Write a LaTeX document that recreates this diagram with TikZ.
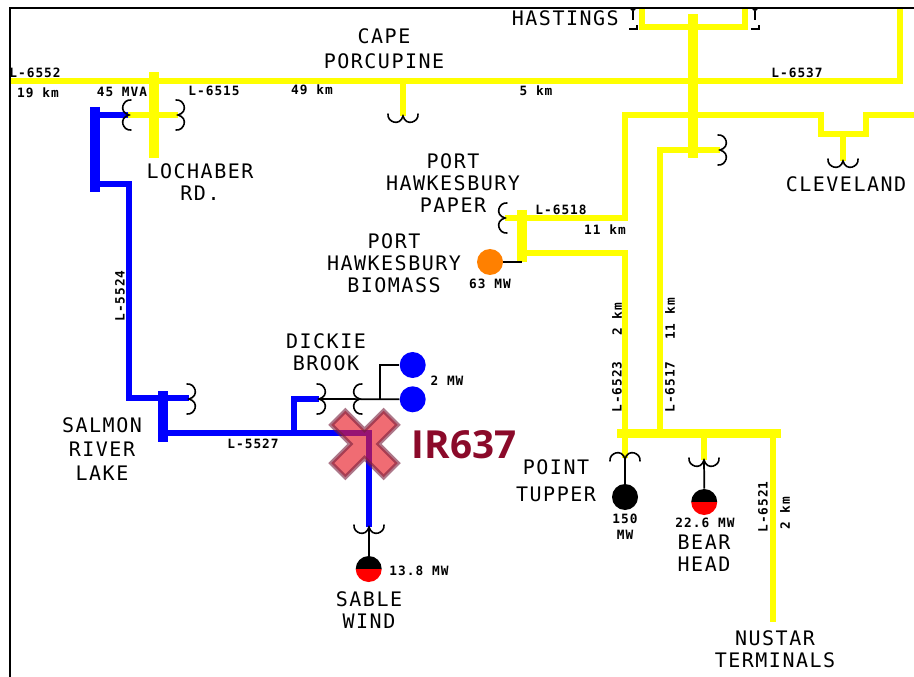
\documentclass[tikz,border=0pt]{standalone}
\usepackage{fontspec}
\setmainfont{Liberation Sans}
\newfontfamily\biglab[LetterSpace=7.5]{DejaVu Sans Mono}
\newfontfamily\smalllab[LetterSpace=8]{DejaVu Sans Mono Bold}
\newfontfamily\irfont{Open Sans Bold}
\definecolor{yel}{RGB}{255,255,0}
\definecolor{blu}{RGB}{0,0,255}
\definecolor{irred}{RGB}{139,10,42}
\tikzset{
  x=0.75pt,y=-0.75pt,
  ylw/.style={draw=yel,line width=5pt,line join=miter},
  ylwb/.style={draw=yel,line width=7pt},
  bl/.style={draw=blu,line width=5pt,line join=miter},
  blb/.style={draw=blu,line width=7pt},
  wire/.style={draw=black,line width=1.3pt},
  big/.style={inner sep=0pt,align=center,font=\biglab\fontsize{15}{16.5}\selectfont},
  small/.style={inner sep=0pt,font=\smalllab\fontsize{9.6}{11}\selectfont},
  gen/.style={circle,minimum size=19.5pt,inner sep=0pt},
  coil/.pic={\draw[black,line width=1.2pt,line cap=round]
     (-2,-15) .. controls (6,-16) and (11,-3) .. (0,0)
     .. controls (11,3) and (6,16) .. (-2,15);}
}
\begin{document}
\begin{tikzpicture}
\useasboundingbox (0,0) rectangle (914,677);
\fill[white] (0,0) rectangle (914,677);
% coordinates of the junctions
\coordinate (wL) at (10,81);
\coordinate (eT) at (900,8);
\coordinate (hL) at (642,8);
\coordinate (hR) at (745,8);
% yellow lines
\draw[ylw] (wL) -- (900,81) -- (eT);
\draw[ylw] (hL) -- (642,27) -- (745,27) -- (hR);
\draw[ylwb] (693,14) -- (693,158);
\draw[ylwb] (154,72) -- (154,158);
\draw[ylw] (128,115) -- (178,115);
\draw[ylw] (403,81) -- (403,116);
\draw[ylw] (505,218) -- (625,218) -- (625,115) -- (821,115) -- (821,134) -- (866,134) -- (866,115) -- (914,115);
\draw[ylw] (843,134) -- (843,161);
\draw[ylw] (720,150) -- (660,150) -- (660,433);
\draw[ylwb] (522,210) -- (522,262);
\draw[ylw] (522,253) -- (625,253) -- (625,458);
\draw[ylwb] (617,433.5) -- (781,433.5);
\draw[ylw] (704,433) -- (704,460);
\draw[ylw] (773,433) -- (773,622);
% blue lines
\draw[blb] (95,107) -- (95,192);
\draw[bl] (95,115) -- (128,115);
\draw[bl] (95,184) -- (129,184) -- (129,398) -- (189,398);
\draw[blb] (163,391) -- (163,442);
\draw[bl] (163,433) -- (369,433) -- (369,527);
\draw[bl] (294,433) -- (294,399) -- (319,399);
% generators
\node[gen,fill=blu] (g1) at (412.7,365) {};
\node[gen,fill=blu] (g2) at (412.7,399.3) {};
\node[gen,fill=orange] (g3) at (490,262) {};
\node[gen,fill=black] (g4) at (625,497) {};
\node[gen] (g5) at (704.5,502) {};
\node[gen] (g6) at (369,569) {};
\fill[black] (g5.west) arc[start angle=180,end angle=360,radius=13] -- cycle;
\fill[red] (g5.west) arc[start angle=180,end angle=0,radius=13] -- cycle;
\fill[black] (g6.west) arc[start angle=180,end angle=360,radius=13] -- cycle;
\fill[red] (g6.west) arc[start angle=180,end angle=0,radius=13] -- cycle;
% black wires
\coordinate (c1) at (319,399);
\coordinate (bj) at (380,399);
\draw[wire] (c1) -- (g2);
\draw[wire] (bj) |- (g1);
\draw[wire] (g3) -- (522,262);
\coordinate (c2) at (625,459);
\coordinate (c3) at (704,460);
\coordinate (c4) at (369,527);
\draw[wire] (c2) -- (g4);
\draw[wire] (c3) -- (g5);
\draw[wire] (c4) -- (g6);
% coils
\pic at (129,115) [xscale=-1] {coil};
\pic at (178,115) {coil};
\pic at (403,116) [rotate=-90] {coil};
\pic at (720,150) {coil};
\pic at (843,161) [rotate=-90] {coil};
\pic at (505,218) [xscale=-1] {coil};
\pic at (189,399) {coil};
\pic at (319,399) {coil};
\pic at (360,399) [xscale=-1] {coil};
\pic at (625,459) [rotate=90] {coil};
\pic at (704,460) [rotate=-90] {coil};
\pic at (369,527) [rotate=-90] {coil};
% Hastings marks
\foreach \xx in {633,755}{
  \fill[black] (\xx-3,8) arc[start angle=180,end angle=0,radius=3] -- cycle;
  \draw[black,line width=1.3pt] (\xx,11) -- (\xx,20);
  \draw[black,line width=1.3pt] (\xx-4,29) -- (\xx+4,29) -- (\xx+4,25);
}
% frame
\draw[black,line width=1.1pt] (10,677) -- (10,8) -- (914,8);
% red cross
\begin{scope}[shift={(364.5,444)},rotate=45]
\draw[draw={rgb,255:red,120;green,30;blue,60},draw opacity=.6,line width=3.2pt,fill={rgb,255:red,232;green,30;blue,40},fill opacity=.65,line join=miter]
 (-10,-37) -- (10,-37) -- (10,-10) -- (37,-10) -- (37,10) -- (10,10) -- (10,37) -- (-10,37) -- (-10,10) -- (-37,10) -- (-37,-10) -- (-10,-10) -- cycle;
\end{scope}
\node[inner sep=0pt,text=irred,font=\irfont\fontsize{29}{31}\selectfont] (ir) at (464,445) {IR637};
% big labels
\node[big] (n1) at (384,48.5) {CAPE\\[2.5pt]PORCUPINE};
\node[big] (n2) at (200,182.5) {LOCHABER\\RD.};
\node[big,anchor=east] (n3) at (619,18.5) {HASTINGS};
\node[big] (n4) at (846,184) {CLEVELAND};
\node[big] (n5) at (453,183) {PORT\\HAWKESBURY\\PAPER};
\node[big] (n6) at (394,263) {PORT\\HAWKESBURY\\BIOMASS};
\node[big] (n7) at (326,352) {DICKIE\\BROOK};
\node[big] (n8) at (102,449) {SALMON\\[1.5pt]RIVER\\[1.5pt]LAKE};
\node[big] (n9) at (556,480.5) {POINT\\[4pt]TUPPER};
\node[big] (n10) at (704,553.5) {BEAR\\HEAD};
\node[big] (n11) at (369,610.5) {SABLE\\WIND};
\node[big] (n12) at (775,649.5) {NUSTAR\\TERMINALS};
% small labels
\node[small] (s1) at (35,73) {L-6552};
\node[small] (s2) at (38,93) {19 km};
\node[small] (s3) at (122,92) {45 MVA};
\node[small] (s4) at (214,91) {L-6515};
\node[small] (s5) at (312,90) {49 km};
\node[small] (s6) at (536,91) {5 km};
\node[small] (s7) at (797,73) {L-6537};
\node[small] (s8) at (561,210) {L-6518};
\node[small] (s9) at (605,230) {11 km};
\node[small] (s10) at (490,284) {63 MW};
\node[small] (s11) at (447,381) {2 MW};
\node[small] (s12) at (253,444) {L-5527};
\node[small] (s13) at (419,571) {13.8 MW};
\node[small] (s14) at (625,519) {150};
\node[small] (s15) at (625,535) {MW};
\node[small] (s16) at (705,523) {22.6 MW};
\node[small,rotate=90] (s17) at (120,296) {L-5524};
\node[small,rotate=90] (s18) at (617,387) {L-6523};
\node[small,rotate=90] (s19) at (617,319) {2 km};
\node[small,rotate=90] (s20) at (670,387) {L-6517};
\node[small,rotate=90] (s21) at (670,319) {11 km};
\node[small,rotate=90] (s22) at (763,507) {L-6521};
\node[small,rotate=90] (s23) at (785,513) {2 km};
\end{tikzpicture}
\end{document}
